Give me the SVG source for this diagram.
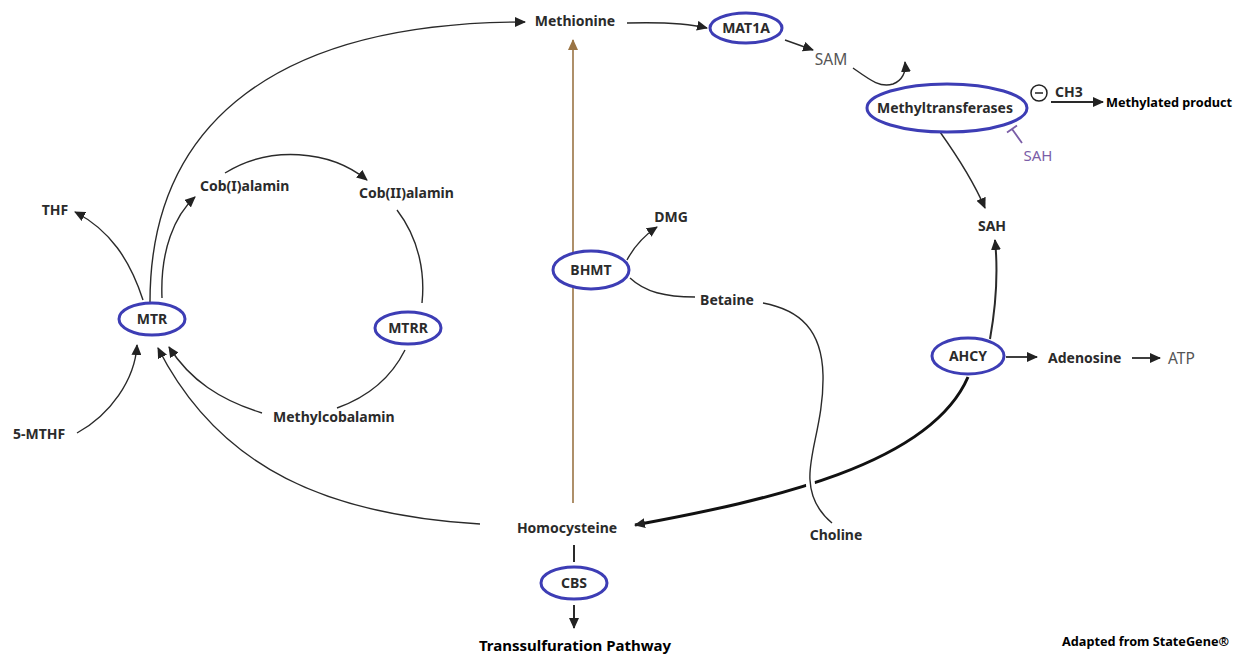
<svg xmlns="http://www.w3.org/2000/svg" width="1241" height="656" viewBox="0 0 1241 656">
<defs>
<marker id="ah" markerUnits="userSpaceOnUse" markerWidth="11" markerHeight="10" refX="10" refY="5" orient="auto">
<path d="M0,0 L11,5 L0,10 z" fill="#222"/>
</marker>
<marker id="ahb" markerUnits="userSpaceOnUse" markerWidth="11" markerHeight="10" refX="10" refY="5" orient="auto">
<path d="M0,0 L11,5 L0,10 z" fill="#9a7444"/>
</marker>
<style>
text{font-family:"Noto Sans","Open Sans","DejaVu Sans",sans-serif;fill:#2b2b2b;font-size:14px;font-weight:bold}
.g{fill:#555;font-weight:normal;font-size:15.5px}
.p{fill:#7b5ea7;font-weight:normal;font-size:15px}
.k{fill:#000}
.c{text-anchor:middle}
.e{fill:#fff;stroke:#3d3db5;stroke-width:3}
.l{fill:none;stroke:#2a2a2a;stroke-width:1.4}
.a{marker-end:url(#ah)}
</style>
</defs>
<rect width="1241" height="656" fill="#fff"/>
<g id="connectors">
<path class="l a" d="M150,302 C150,120 280,22 525,22"/>
<path d="M573,503 L573,40" fill="none" stroke="#9a7444" stroke-width="1.6" marker-end="url(#ahb)"/>
<path class="l a" d="M627,23 C660,22 690,24 707,28"/>
<path class="l a" d="M785,40 L813,50"/>
<path class="l a" d="M853,68 C870,80 880,88 893,84 C903,80 906,72 905,62"/>
<path class="l a" d="M940,132 C960,160 975,185 985,208"/>
<path d="M1022,143 L1012,129 M1007,132.5 L1017,125.5" stroke="#7b5ea7" stroke-width="1.8" fill="none"/>
<circle cx="1039" cy="93" r="8" fill="none" stroke="#222" stroke-width="1.5"/>
<path d="M1035,93 L1043,93" stroke="#222" stroke-width="1.5"/>
<path class="l a" d="M1051,102 L1103,102" style="stroke-width:1.8"/>
<path class="l a" d="M990,339 C997,300 998,270 995,240" style="stroke-width:2"/>
<path class="l a" d="M1006,357 L1037,357" style="stroke-width:1.8"/>
<path class="l a" d="M1132,358 L1160,358" style="stroke-width:1.8"/>
<path class="l a" d="M968,377 C930,465 770,500 635,525" style="stroke-width:3;stroke:#111"/>
<path d="M763,303 C800,310 822,330 823,375 C824,420 808,455 810,480 C811,500 820,513 832,523" fill="none" stroke="#fff" stroke-width="9"/>
<path class="l" d="M763,303 C800,310 822,330 823,375 C824,420 808,455 810,480 C811,500 820,513 832,523"/>
<path class="l a" d="M627,260 C635,245 645,235 657,227"/>
<path class="l" d="M630,278 C645,292 665,297 695,297"/>
<path class="l" d="M574,545 L574,562" style="stroke-width:2"/>
<path class="l a" d="M574,605 L574,628" style="stroke-width:2"/>
<path class="l a" d="M480,524 C330,515 220,470 158,348"/>
<path class="l a" d="M143,300 C130,260 110,230 75,212"/>
<path class="l a" d="M162,298 C160,250 175,215 195,197"/>
<path class="l a" d="M225,173 C270,145 330,150 367,180"/>
<path class="l" d="M397,210 C420,240 425,275 422,303"/>
<path class="l" d="M405,350 C390,380 365,398 337,408"/>
<path class="l a" d="M262,413 C220,400 190,380 169,347"/>
<path class="l a" d="M77,433 C110,415 135,380 137,345"/>
</g>
<g id="methionine"><text class="c" x="575" y="26">Methionine</text></g>
<g id="mat1a"><ellipse class="e" cx="746" cy="28" rx="36" ry="15"/><text class="c" x="746" y="33">MAT1A</text></g>
<g id="sam"><text class="g c" x="831" y="65">SAM</text></g>
<g id="methyltransferases"><ellipse class="e" cx="947" cy="108" rx="80" ry="24"/><text class="c" x="945" y="113">Methyltransferases</text></g>
<g id="ch3"><text x="1055" y="97">CH3</text></g>
<g id="methylated-product"><text class="k" x="1106" y="107" style="font-size:12.7px">Methylated product</text></g>
<g id="sah-inhibitor"><text class="p c" x="1038" y="161">SAH</text></g>
<g id="sah"><text class="c" x="992" y="231">SAH</text></g>
<g id="ahcy"><ellipse class="e" cx="968" cy="356" rx="36" ry="18"/><text class="c" x="968" y="361">AHCY</text></g>
<g id="adenosine"><text x="1048" y="363">Adenosine</text></g>
<g id="atp"><text class="g" x="1168" y="364">ATP</text></g>
<g id="dmg"><text class="c" x="671" y="222">DMG</text></g>
<g id="bhmt"><ellipse class="e" cx="591" cy="270" rx="38" ry="19"/><text class="c" x="591" y="275">BHMT</text></g>
<g id="betaine"><text class="c" x="727" y="305">Betaine</text></g>
<g id="choline"><text class="c" x="836" y="540">Choline</text></g>
<g id="homocysteine"><text class="c" x="567" y="533">Homocysteine</text></g>
<g id="cbs"><ellipse class="e" cx="574" cy="583" rx="33" ry="16"/><text class="c" x="574" y="588">CBS</text></g>
<g id="transsulfuration"><text class="k c" x="575" y="651" style="font-size:15px">Transsulfuration Pathway</text></g>
<g id="thf"><text class="c" x="55" y="215">THF</text></g>
<g id="mtr"><ellipse class="e" cx="152" cy="319" rx="33" ry="16"/><text class="c" x="152" y="324">MTR</text></g>
<g id="cob1"><text x="200" y="191">Cob(I)alamin</text></g>
<g id="cob2"><text x="359" y="198">Cob(II)alamin</text></g>
<g id="mtrr"><ellipse class="e" cx="408" cy="328" rx="33" ry="16"/><text class="c" x="408" y="333">MTRR</text></g>
<g id="methylcobalamin"><text x="273" y="422">Methylcobalamin</text></g>
<g id="mthf"><text x="13" y="439">5-MTHF</text></g>
<g id="credit"><text class="k" x="1062" y="646" style="font-size:12.7px">Adapted from StateGene®</text></g>
</svg>
